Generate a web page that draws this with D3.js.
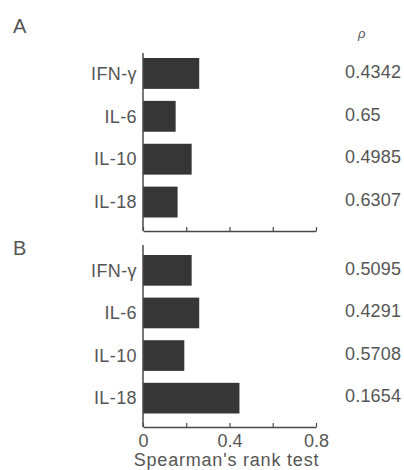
<!DOCTYPE html>
<html>
<head>
<meta charset="utf-8">
<script src="https://cdn.jsdelivr.net/npm/d3@7/dist/d3.min.js"></script>
<style>
  html, body { margin: 0; padding: 0; background: #fff; }
  svg { display: block; }
  text { font-family: "Liberation Sans", Arial, Helvetica, sans-serif; fill: #555; }
</style>
</head>
<body>
<svg id="chart" width="404" height="470"></svg>
<script>
// Cytokines compared in both panels
const cytokines = ["IFN-\u03b3", "IL-6", "IL-10", "IL-18"];
// Spearman's rank correlation coefficients
const rhoA = [0.26, 0.151, 0.225, 0.16];
const rhoB = [0.225, 0.26, 0.191, 0.446];
// P values listed to the right of each bar
const pA = ["0.4342", "0.65", "0.4985", "0.6307"];
const pB = ["0.5095", "0.4291", "0.5708", "0.1654"];
// x-axis ticks
const xTicks = [0, 0.2, 0.4, 0.6, 0.8];
const xTickLabels = ["0", "0.4", "0.8"];

const svg = d3.select("#chart");
const axisColor = "#4a4a4a";
const textColor = "#555";
const barColor = "#363636";

const x = d3.scaleLinear().domain([0, 0.8]).range([143, 316]);

function panel(letter, letterY, values, pvals, axisTop, barTop, barBottom, axisBottom, showLabels) {
  const g = svg.append("g");
  const y = d3.scaleBand()
    .domain(cytokines)
    .range([barTop, barBottom])
    .paddingInner(0.28)
    .paddingOuter(0);

  g.append("text")
    .attr("x", 13).attr("y", letterY)
    .attr("font-size", 20)
    .text(letter);

  g.selectAll("rect.bar")
    .data(values)
    .join("rect")
    .attr("class", "bar")
    .attr("x", x(0))
    .attr("y", (d, i) => y(cytokines[i]))
    .attr("width", d => x(d) - x(0))
    .attr("height", y.bandwidth())
    .attr("fill", barColor);

  // category labels
  g.selectAll("text.cat")
    .data(cytokines)
    .join("text")
    .attr("class", "cat")
    .attr("x", 137)
    .attr("y", d => y(d) + y.bandwidth() / 2)
    .attr("dy", "0.35em")
    .attr("text-anchor", "end")
    .attr("font-size", 18)
    .attr("letter-spacing", 0.4)
    .text(d => d);

  // p values
  g.selectAll("text.pval")
    .data(pvals)
    .join("text")
    .attr("class", "pval")
    .attr("x", 345)
    .attr("y", (d, i) => y(cytokines[i]) + y.bandwidth() / 2 - 2)
    .attr("dy", "0.35em")
    .attr("font-size", 18)
    .attr("letter-spacing", 0.2)
    .text(d => d);

  // y axis line
  g.append("line")
    .attr("x1", x(0)).attr("x2", x(0))
    .attr("y1", axisTop).attr("y2", axisBottom)
    .attr("stroke", axisColor).attr("stroke-width", 1.5);

  // x axis with inward ticks
  const xAxis = d3.axisBottom(x)
    .tickValues(xTicks)
    .tickSizeInner(-4)
    .tickSizeOuter(0)
    .tickFormat(d => (showLabels && xTickLabels.includes(String(d))) ? String(d) : "");
  const ax = g.append("g")
    .attr("transform", `translate(0,${axisBottom})`)
    .call(xAxis);
  ax.select(".domain").attr("stroke", axisColor).attr("stroke-width", 1.5);
  ax.selectAll(".tick line").attr("stroke", axisColor).attr("stroke-width", 1.2);
  ax.selectAll(".tick text")
    .attr("font-size", 18)
    .attr("font-family", "'Liberation Sans', Arial, sans-serif")
    .attr("fill", textColor)
    .attr("y", 7);
  return g;
}

panel("A", 33, rhoA, pA, 53, 58, 217.5, 231, false);
panel("B", 255, rhoB, pB, 245, 255, 413.5, 427, true);

// rho header above p value column
svg.append("text")
  .attr("x", 358).attr("y", 38)
  .attr("font-size", 13)
  .attr("font-style", "italic")
  .text("\u03c1");

// x-axis title
svg.append("text")
  .attr("x", (x(0) + x(0.8)) / 2 - 3)
  .attr("y", 466)
  .attr("text-anchor", "middle")
  .attr("font-size", 18)
  .attr("letter-spacing", 0.8)
  .text("Spearman's rank test");
</script>
</body>
</html>
